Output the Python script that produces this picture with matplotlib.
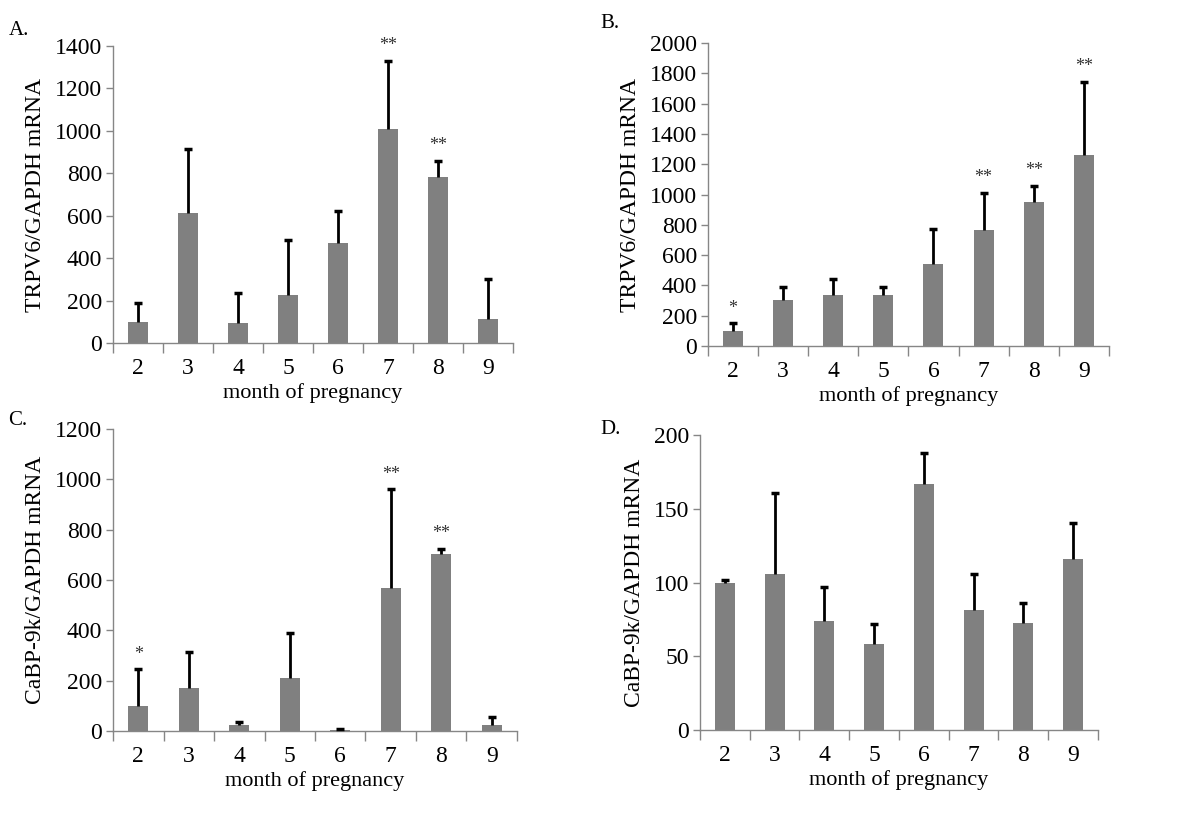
import numpy as np
import matplotlib
matplotlib.use('Agg')
import matplotlib.pyplot as plt

plt.rcParams['font.family'] = ['Liberation Serif', 'DejaVu Serif']

# dane
months = ['2', '3', '4', '5', '6', '7', '8', '9']

trpv6_a = [100, 613, 94, 228, 470, 1009, 782, 112]
trpv6_a_err = [90, 300, 140, 257, 154, 322, 76, 188]
trpv6_a_stars = ['', '', '', '', '', '**', '**', '']

trpv6_b = [99, 303, 338, 336, 543, 769, 950, 1259]
trpv6_b_err = [50, 90, 102, 53, 231, 244, 109, 484]
trpv6_b_stars = ['*', '', '', '', '', '**', '**', '**']

cabp_c = [99, 171, 23, 211, 4, 568, 704, 23]
cabp_c_err = [146, 143, 13, 180, 3, 393, 21, 34]
cabp_c_stars = ['*', '', '', '', '', '**', '**', '']

cabp_d = [100, 105.5, 74, 58.6, 166.6, 81.6, 72.6, 115.9]
cabp_d_err = [1.8, 55, 22.7, 13.4, 21.2, 24.4, 13.8, 24.6]
cabp_d_stars = ['', '', '', '', '', '', '', '']

panels = [
    ('A.', [0.0942, 0.5827, 0.3333, 0.3613], trpv6_a, trpv6_a_err, trpv6_a_stars,
     1400, 200, 'TRPV6/GAPDH mRNA'),
    ('B.', [0.590, 0.579, 0.334, 0.3687], trpv6_b, trpv6_b_err, trpv6_b_stars,
     2000, 200, 'TRPV6/GAPDH mRNA'),
    ('C.', [0.0942, 0.1107, 0.3366, 0.3674], cabp_c, cabp_c_err, cabp_c_stars,
     1200, 200, 'CaBP-9k/GAPDH mRNA'),
    ('D.', [0.5833, 0.1119, 0.3317, 0.3589], cabp_d, cabp_d_err, cabp_d_stars,
     200, 50, 'CaBP-9k/GAPDH mRNA'),
]

label_pos = {'A.': (0.007, 0.963), 'B.': (0.500, 0.972), 'C.': (0.007, 0.488), 'D.': (0.500, 0.477)}

fig = plt.figure(figsize=(12, 8.22), dpi=100)
grey = '#868686'

for name, rect, vals, errs, stars, ymax, step, ylab in panels:
    ax = fig.add_axes(rect)
    x = np.arange(len(months))
    vals = np.array(vals, dtype=float)
    errs = np.array(errs, dtype=float)
    ax.bar(x, vals, width=0.4, color='#808080', zorder=2)
    tops = vals + errs
    ax.vlines(x, vals, tops, color='black', linewidth=2, zorder=3)
    ax.plot(x, tops, linestyle='none', marker='_', markersize=6, markeredgewidth=2.5,
            color='black', zorder=3)
    for xi, t, s in zip(x, tops, stars):
        if s:
            ax.text(xi, t + ymax * 0.022, s, ha='center', va='bottom', fontsize=13,
                    color='#333333')
    ax.set_xlim(-0.5, len(months) - 0.5)
    ax.set_ylim(0, ymax)
    ax.set_yticks(np.arange(0, ymax + 1, step))
    ax.set_xticks(x)
    ax.set_xticklabels(months)
    ax.set_xticks(np.arange(-0.5, len(months), 1), minor=True)
    ax.tick_params(axis='x', which='major', length=0, labelsize=17, pad=11)
    ax.tick_params(axis='x', which='minor', length=7, width=1, color=grey, direction='out')
    ax.tick_params(axis='y', length=5, width=1, color=grey, labelsize=17, pad=3)
    for sp in ['top', 'right']:
        ax.spines[sp].set_visible(False)
    for sp in ['left', 'bottom']:
        ax.spines[sp].set_color(grey)
        ax.spines[sp].set_linewidth(1)
    ax.set_xlabel('month of pregnancy', fontsize=16, labelpad=3)
    ax.set_ylabel(ylab, fontsize=17, labelpad=6)
    fig.text(label_pos[name][0], label_pos[name][1], name, fontsize=15, ha='left', va='center')

fig.savefig('out.png', dpi=100)
